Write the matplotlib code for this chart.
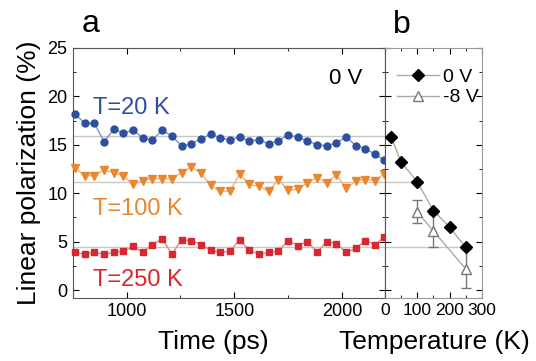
import matplotlib.pyplot as plt
from matplotlib.ticker import MultipleLocator

plt.rcParams['font.family'] = ['Liberation Sans', 'DejaVu Sans']

# Panel a: polarization vs time
time_ps = [760, 805, 850, 895, 940, 985, 1030, 1075, 1120, 1165, 1210,
           1255, 1300, 1345, 1390, 1435, 1480, 1525, 1570, 1615, 1660,
           1705, 1750, 1795, 1840, 1885, 1930, 1975, 2020, 2065, 2110,
           2155, 2198]
pol_20K = [18.2, 17.2, 17.2, 15.3, 16.6, 16.2, 16.5, 15.7, 15.5, 16.5, 15.9,
           14.9, 15.1, 15.6, 16.1, 15.7, 15.5, 15.8, 15.4, 15.5, 15.1,
           15.4, 16.0, 15.8, 15.4, 15.0, 14.9, 15.2, 15.8, 14.9, 14.6,
           14.0, 13.4]
pol_100K = [12.6, 11.8, 11.8, 12.4, 12.1, 11.8, 10.9, 11.3, 11.5, 11.5, 11.5,
            12.1, 12.7, 12.1, 10.8, 10.2, 10.2, 12.0, 10.9, 10.7, 10.2,
            11.4, 10.3, 10.4, 11.1, 11.6, 11.1, 11.9, 10.5, 11.3, 11.4,
            11.3, 12.0]
pol_250K = [3.9, 3.7, 3.9, 3.7, 3.9, 4.0, 4.5, 3.9, 4.7, 5.3, 3.7,
            5.2, 5.1, 4.7, 4.1, 3.9, 4.0, 5.2, 4.1, 3.7, 3.9,
            4.0, 5.1, 4.6, 5.0, 3.9, 5.0, 4.8, 3.9, 4.3, 5.1,
            4.7, 5.5]

# mean levels (gray guide lines)
mean_levels = [15.85, 11.2, 4.45]
mean_temps = [20, 100, 250]

# Panel b: polarization vs temperature
temp_0V = [20, 50, 100, 150, 200, 250]
pol_0V = [15.8, 13.2, 11.2, 8.2, 6.5, 4.4]
temp_8V = [100, 150, 250]
pol_8V = [8.1, 6.1, 2.2]
err_8V = [1.2, 1.7, 2.0]

blue = '#2d4f9e'
orange = '#e9862e'
red = '#d9262f'
blue_l = '#7d93c4'
orange_l = '#f0b27a'
red_l = '#e98287'
guide = '#c8c8c8'

fig = plt.figure(figsize=(5.36, 3.61), dpi=100)
ax1 = fig.add_axes([0.136, 0.175, 0.582, 0.6925])
ax2 = fig.add_axes([0.718, 0.175, 0.181, 0.6925])

for lvl in mean_levels:
    ax1.axhline(lvl, color=guide, lw=1, zorder=1)

ax1.plot(time_ps, pol_20K, color=blue_l, lw=1, zorder=2)
ax1.plot(time_ps, pol_20K, 'o', color=blue, ms=5, zorder=3, clip_on=False)
ax1.plot(time_ps, pol_100K, color=orange_l, lw=1, zorder=2)
ax1.plot(time_ps, pol_100K, 'v', color=orange, ms=5.5, zorder=3, clip_on=False)
ax1.plot(time_ps, pol_250K, color=red_l, lw=1, zorder=2)
ax1.plot(time_ps, pol_250K, 's', color=red, ms=4.5, zorder=3, clip_on=False)

ax1.text(845, 18.2, 'T=20 K', color=blue, fontsize=17)
ax1.text(845, 7.7, 'T=100 K', color=orange, fontsize=17)
ax1.text(845, 0.4, 'T=250 K', color=red, fontsize=17)
ax1.text(1940, 21.3, '0 V', color='black', fontsize=16)

ax1.set_xlim(750, 2200)
ax1.set_ylim(-0.8, 25)
ax1.xaxis.set_major_locator(MultipleLocator(500))
ax1.xaxis.set_minor_locator(MultipleLocator(250))
ax1.yaxis.set_major_locator(MultipleLocator(5))
ax1.yaxis.set_minor_locator(MultipleLocator(2.5))
ax1.tick_params(which='both', direction='in', top=True, right=True, labelsize=13)
ax1.tick_params(which='major', length=4, pad=4)
ax1.tick_params(which='minor', length=2.5)
ax1.set_xlabel('Time (ps)', fontsize=19)
ax1.xaxis.set_label_coords(0.449, -0.176)
ax1.xaxis.label.set_va('center')
ax1.set_ylabel('Linear polarization (%)', fontsize=19)
ax1.yaxis.set_label_coords(-0.14, 0.5)
ax1.yaxis.label.set_va('center')
for s in ax1.spines.values():
    s.set_color('#555555')

# panel b
for lvl, t in zip(mean_levels, mean_temps):
    ax2.hlines(lvl, 0, t, color=guide, lw=1, zorder=1)
ax2.plot(temp_0V, pol_0V, '-D', color='#aaaaaa', mfc='black', mec='black',
         ms=6.5, lw=1, label='0 V', zorder=3, clip_on=False)
ax2.errorbar(temp_8V, pol_8V, yerr=err_8V, fmt='none', ecolor='#777777',
             capsize=3.5, elinewidth=1, zorder=2)
ax2.plot(temp_8V, pol_8V, '-^', color='#aaaaaa', mfc='white', mec='#777777',
         ms=7, lw=1, label='-8 V', zorder=2)
ax2.legend(loc='upper left', bbox_to_anchor=(0.0, 0.965), frameon=False,
           fontsize=14, handlelength=2.2, handletextpad=0.2, labelspacing=0.15,
           borderaxespad=0.2)

ax2.set_xlim(0, 300)
ax2.set_ylim(-0.8, 25)
ax2.xaxis.set_major_locator(MultipleLocator(100))
ax2.xaxis.set_minor_locator(MultipleLocator(50))
ax2.yaxis.set_major_locator(MultipleLocator(5))
ax2.yaxis.set_minor_locator(MultipleLocator(2.5))
ax2.tick_params(which='both', direction='in', top=True, right=True,
                labelleft=False, labelsize=12.5)
ax2.tick_params(which='major', length=4, pad=4)
ax2.tick_params(which='minor', length=2.5)
ax2.set_xlabel('Temperature (K)', fontsize=19)
ax2.xaxis.set_label_coords(0.515, -0.176)
ax2.xaxis.label.set_va('center')
for s in ax2.spines.values():
    s.set_color('#999999')
ax2.spines['left'].set_color('#555555')

fig.text(0.153, 0.911, 'a', fontsize=23)
fig.text(0.733, 0.909, 'b', fontsize=23)

fig.savefig('out.png', dpi=100)
